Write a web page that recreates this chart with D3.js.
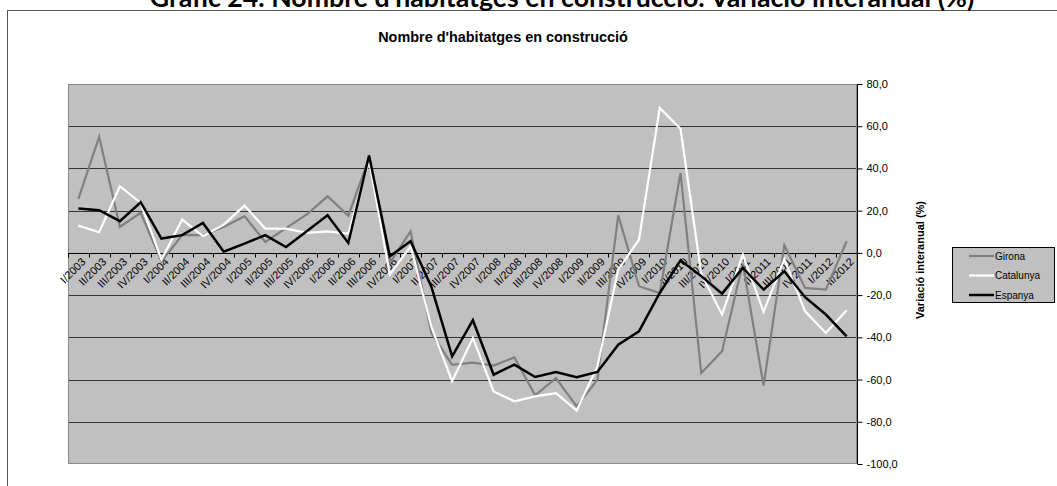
<!DOCTYPE html>
<html><head><meta charset="utf-8">
<script src="https://cdn.jsdelivr.net/npm/d3@7"></script>
<style>
html,body{margin:0;padding:0;background:#fff;overflow:hidden;}
svg{display:block;}
</style></head>
<body>
<svg id="chart" width="1057" height="486"></svg>
<script>
const categories = ["I/2003","II/2003","III/2003","IV/2003","I/2004","II/2004","III/2004","IV/2004",
"I/2005","II/2005","III/2005","IV/2005","I/2006","II/2006","III/2006","IV/2006",
"I/2007","II/2007","III/2007","IV/2007","I/2008","II/2008","III/2008","IV/2008",
"I/2009","II/2009","III/2009","IV/2009","I/2010","II/2010","III/2010","IV/2010",
"I/2011","II/2011","III/2011","IV/2011","I/2012","II/2012"];
const girona = [25.6,55,12.3,19,-4,8.4,8.4,12.3,17.4,5.2,11.7,18.2,26.8,17.6,45,-4.7,10.2,-38,-53,-52,-53.4,-49.5,-67.5,-59.3,-72.7,-60,17.8,-15.8,-19,37.9,-56.9,-46.6,-5,-62.9,3.6,-16.6,-17.4,5.5];
const catalunya = [12.9,9.8,31.6,23.7,-3.2,15.8,7.9,13.4,22.4,11.5,11.5,9.5,10.2,9.1,44,-10.3,3.1,-35,-60.8,-40.3,-65.6,-70.3,-68,-66.4,-74.7,-53.7,-8,6.3,68.7,58.8,-10,-29.2,-0.8,-28,-3,-27.7,-37.9,-27.2];
const espanya = [21,20.2,15,24,6.8,8.4,14.2,0.6,4.4,8.4,2.8,10.2,17.8,4.7,46.1,-1.6,5.5,-16,-49,-31.9,-57.7,-52.9,-58.8,-56.4,-58.9,-56.4,-43.5,-37.2,-19,-3.5,-11,-19.3,-7.1,-17.4,-8.7,-21,-29.2,-39.5];
const seriesNames = ["Girona","Catalunya","Espanya"];
const yTicks = [80,60,40,20,0,-20,-40,-60,-80,-100];
const mainTitle = "Gràfic 24. Nombre d'habitatges en construcció. Variació interanual (%)";
const chartTitle = "Nombre d'habitatges en construcció";
const yTitle = "Variació interanual (%)";

const svg = d3.select("#chart");
const font = "'Liberation Sans', Arial, sans-serif";
const L = 68, R = 857, T = 84, B = 464;

// outer frame
svg.append("rect").attr("x",7.5).attr("y",10.5).attr("width",1100).attr("height",600)
  .attr("fill","#fff").attr("stroke","#555").attr("stroke-width",1);

// main title (clipped at top as in the reference)
const mt = svg.append("text").attr("x",562).attr("y",7).attr("text-anchor","middle")
  .attr("font-family","Lato, 'Open Sans', sans-serif").attr("font-weight","bold")
  .attr("font-size",21).attr("fill","#000").text(mainTitle);
const w = mt.node().getComputedTextLength();
mt.attr("font-size", 21*825/w);

const ct = svg.append("text").attr("x",503).attr("y",42).attr("text-anchor","middle")
  .attr("font-family",font).attr("font-weight","bold").attr("font-size",12)
  .text(chartTitle);
const cw = ct.node().getComputedTextLength();
ct.attr("font-size", 12*250/cw);

const x = d3.scaleBand().domain(categories).range([L,R]).padding(0);
const y = d3.scaleLinear().domain([-100,80]).range([B,T]);

svg.append("rect").attr("x",L).attr("y",T).attr("width",R-L).attr("height",B-T)
  .attr("fill","#c0c0c0");

// gridlines
svg.append("g").selectAll("line").data(yTicks.filter(d=>d>-100 && d<80)).join("line")
  .attr("x1",L).attr("x2",R).attr("y1",d=>Math.round(y(d))+0.5).attr("y2",d=>Math.round(y(d))+0.5)
  .attr("stroke","#333").attr("stroke-width",1);

// plot border
svg.append("rect").attr("x",L+0.5).attr("y",T+0.5).attr("width",R-L-1).attr("height",B-T-1)
  .attr("fill","none").attr("stroke","#8a8a8a").attr("stroke-width",1);

// x axis at 0
const y0 = Math.round(y(0))+0.5;
const xAxis = svg.append("g");
xAxis.append("line").attr("x1",L).attr("x2",R).attr("y1",y0).attr("y2",y0).attr("stroke","#000");
const bounds = d3.range(categories.length+1).map(i=>L+i*x.bandwidth());
xAxis.selectAll("line.tk").data(bounds).join("line").attr("class","tk")
  .attr("x1",d=>Math.round(d)+0.5).attr("x2",d=>Math.round(d)+0.5).attr("y1",y0).attr("y2",y0+4)
  .attr("stroke","#000");
xAxis.selectAll("text").data(categories).join("text")
  .attr("transform",d=>`translate(${x(d)+x.bandwidth()/2+8},${y0+9}) rotate(-45)`)
  .attr("text-anchor","end").attr("font-family",font).attr("font-size",11)
  .text(d=>d);

// y axis on right
const yAxis = d3.axisRight(y).tickValues(yTicks).tickSize(5)
  .tickFormat(d=>d3.format(".1f")(d).replace(".",",").replace("−","-"));
const ga = svg.append("g").attr("transform",`translate(${R+0.5},0)`).call(yAxis);
ga.select(".domain").attr("d",`M0,${T}V${B}`).attr("stroke","#000");
ga.selectAll(".tick line").attr("stroke","#000");
ga.selectAll(".tick text").attr("x",9).attr("font-family",font).attr("font-size",11).attr("fill","#000");

svg.append("text").attr("transform","translate(924,260) rotate(-90)").attr("text-anchor","middle")
  .attr("font-family",font).attr("font-weight","bold").attr("font-size",11).text(yTitle);

// lines
const data = [girona,catalunya,espanya];
const colors = ["#808080","#ffffff","#000000"];
const widths = [2.2,2.2,2.5];
const line = d3.line().x((d,i)=>x(categories[i])+x.bandwidth()/2).y(d=>y(d));
data.forEach((s,k)=>{
  svg.append("path").datum(s).attr("d",line).attr("fill","none")
    .attr("stroke",colors[k]).attr("stroke-width",widths[k]).attr("stroke-linejoin","miter");
});

// legend
const lg = svg.append("g");
lg.append("rect").attr("x",952.5).attr("y",247.5).attr("width",102).attr("height",55)
  .attr("fill","#c0c0c0").attr("stroke","#000");
seriesNames.forEach((n,k)=>{
  const yy = 256 + k*19.5;
  lg.append("line").attr("x1",969).attr("x2",994).attr("y1",yy).attr("y2",yy)
    .attr("stroke",colors[k]).attr("stroke-width",widths[k]);
  lg.append("text").attr("x",995).attr("y",yy+3.5).attr("font-family",font).attr("font-size",10)
    .text(n);
});
</script>
</body></html>
